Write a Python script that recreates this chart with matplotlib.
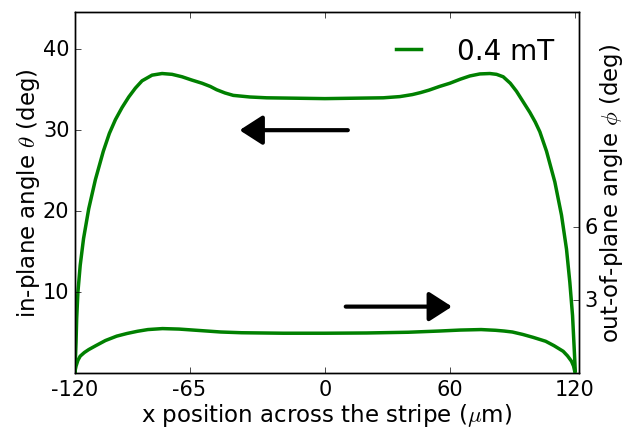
import numpy as np
import matplotlib
matplotlib.use("Agg")
import matplotlib.pyplot as plt

plt.style.use('classic')
plt.rcParams['mathtext.fontset'] = 'cm'

# ============= data =============
# in-plane angle theta (left axis), field 0.4 mT
x_theta = [-120, -119.8, -119.5, -119.2, -118.6, -117.5, -115.9, -113.4, -110.2, -106.4,
           -103.5, -100.6, -97.4, -94.2, -91, -87.8, -83, -78.2, -73.4, -68.6,
           -64, -59, -55, -52, -48, -44, -36, -28, -14, 0,
           14, 28, 36, 42, 46, 50, 55, 60, 65, 69.6,
           74.4, 79.2, 82.4, 85.6, 89, 92, 95.2, 98.4, 101, 103.2,
           106.4, 110.4, 113.6, 116, 117.6, 118.9, 119.7, 120.2]
theta = [0.0, 1.7, 3.8, 6.7, 10.0, 13.3, 16.6, 20.3, 23.9, 27.4,
         29.6, 31.3, 32.8, 34.1, 35.2, 36.1, 36.8, 37.0, 36.9, 36.6,
         36.2, 35.8, 35.4, 35.0, 34.6, 34.3, 34.1, 34.0, 33.95, 33.9,
         33.95, 34.0, 34.15, 34.4, 34.65, 34.95, 35.4, 35.8, 36.3, 36.7,
         36.95, 37.0, 36.9, 36.6, 35.8, 34.8, 33.5, 32.2, 31.0, 29.8,
         27.4, 23.6, 19.5, 15.3, 11.2, 7.1, 3.0, 0.3]

# out-of-plane angle phi (right axis)
x_phi = [-120, -119.9, -119.5, -118.6, -117.5, -115.5, -113.4, -110, -105.4, -100,
         -95, -90, -85, -78, -70, -60, -50, -40, -20, 0,
         20, 40, 55, 65, 75, 82, 86, 90, 95, 100,
         106, 110, 114.4, 116.5, 118.4, 119.4, 120]
phi = [0.0, 0.12, 0.28, 0.52, 0.69, 0.84, 0.96, 1.12, 1.33, 1.51,
       1.62, 1.71, 1.78, 1.82, 1.80, 1.74, 1.68, 1.65, 1.63, 1.63,
       1.64, 1.67, 1.72, 1.76, 1.78, 1.75, 1.72, 1.68, 1.58, 1.46,
       1.30, 1.12, 0.89, 0.70, 0.48, 0.28, 0.05]

x_ticks = [-120, -65, 0, 60, 120]
theta_ticks = [10, 20, 30, 40]
phi_ticks = [3, 6]

# ============= plotting =============
fig = plt.figure(figsize=(6.25, 4.31), dpi=100, facecolor='white')
ax = fig.add_axes([0.12, 0.1323, 0.8064, 0.8375])
ax2 = ax.twinx()

ax.plot(x_theta, theta, color='g', lw=2.5, label='0.4 mT')
ax2.plot(x_phi, phi, color='g', lw=2.5)

ax.set_xlim(-120, 122)
ax.set_ylim(0, 44.6)
ax2.set_ylim(0, 14.8)
ax.set_xticks(x_ticks)
ax.set_xticklabels([str(v) for v in x_ticks])
ax.set_yticks(theta_ticks)
ax2.set_yticks(phi_ticks)
ax.tick_params(labelsize=15)
ax2.tick_params(labelsize=15)

ax.set_xlabel(r'x position across the stripe ($\mu$m)', fontsize=16.5, labelpad=2)
ax.set_ylabel(r'in-plane angle $\theta$ (deg)', fontsize=16.5, labelpad=1)
ax2.set_ylabel(r'out-of-plane angle $\phi$ (deg)', fontsize=16.5, labelpad=0)

# direction arrows
arrow = dict(arrowstyle='-|>,head_length=1.4,head_width=0.9', color='k', lw=3,
             mutation_scale=10, shrinkA=0, shrinkB=0)
ax.annotate('', xy=(-41, 30), xytext=(11, 30), arrowprops=arrow)
ax.annotate('', xy=(61, 8.2), xytext=(10, 8.2), arrowprops=arrow)

ax.legend(loc='upper right', frameon=False, fontsize=20, handlelength=1.5,
          handletextpad=1.0)

fig.savefig('out.png', dpi=100, facecolor='white')
